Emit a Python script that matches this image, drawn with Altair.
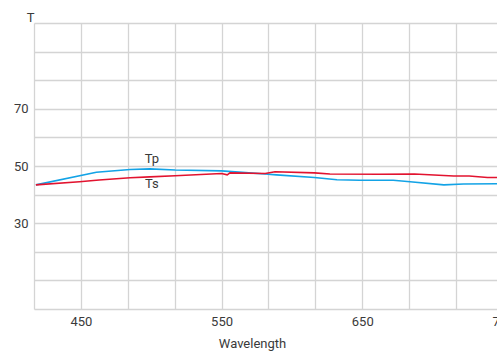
import altair as alt
import pandas as pd

# Transmission curves (wavelength in nm, T in %)
tp_wl = [418, 461, 485, 499, 517, 550, 567, 581, 589, 616, 632, 648, 672, 684, 708, 722, 746, 760]
tp_t = [43.4, 47.8, 48.8, 49.0, 48.6, 48.3, 47.7, 47.2, 46.9, 46.0, 45.2, 45.0, 45.0, 44.5, 43.4, 43.7, 43.8, 43.8]

ts_wl = [418, 449, 463, 485, 499, 517, 550, 554, 556, 581, 588, 616, 627, 662, 687, 715, 726, 739, 760]
ts_t = [43.4, 44.5, 45.1, 45.9, 46.2, 46.6, 47.4, 46.9, 47.6, 47.4, 48.0, 47.6, 47.2, 47.1, 47.2, 46.5, 46.5, 46.0, 46.0]

# Curve name labels
label_names = ["Tp", "Ts"]
label_wl = [500.5, 500.5]
label_t = [52.4, 43.7]

series_names = ["Tp", "Ts"]
series_colors = ["#13a3e6", "#e2132f"]

x_lo, x_hi = 450 - 100 / 3, 760
x_grid = [450 + k * 100 / 3 for k in range(-1, 10)]
y_grid = [0, 10, 20, 30, 40, 50, 60, 70, 80, 90, 100]
y_labels = [30, 50, 70]

FONT = "Roboto, sans-serif"
FS = 13
TEXT = "#3a3a3a"
GRID = "#d4d4d4"

curves = pd.concat([
    pd.DataFrame({"wl": tp_wl, "T": tp_t, "series": "Tp"}),
    pd.DataFrame({"wl": ts_wl, "T": ts_t, "series": "Ts"}),
])
labels = pd.DataFrame({"name": label_names, "wl": label_wl, "T": label_t})

x_scale = alt.Scale(domain=[x_lo, x_hi], nice=False, zero=False)
y_scale = alt.Scale(domain=[0, 100], nice=False)

x_axis = alt.Axis(
    values=x_grid,
    labelExpr="abs(datum.value - 50 - round((datum.value - 50) / 100) * 100) < 0.01 ? format(datum.value, 'd') : ''",
    ticks=False, domain=False, grid=True, gridColor=GRID, gridWidth=1.3,
    labelFont=FONT, labelFontSize=FS, labelColor=TEXT, labelPadding=6,
    labelFlush=False, labelOverlap=False, labelBound=False,
    title="Wavelength", titleFont=FONT, titleFontSize=FS, titleFontWeight="normal",
    titleColor=TEXT, titleX=218, titleY=38, titleAlign="center", titleBaseline="alphabetic",
)
y_axis = alt.Axis(
    values=y_grid,
    labelExpr="indexof(" + str(y_labels) + ", datum.value) >= 0 ? datum.label : ''",
    ticks=False, domain=False, grid=True, gridColor=GRID, gridWidth=1.3,
    labelFont=FONT, labelFontSize=FS, labelColor=TEXT, labelPadding=6,
    labelOverlap=False, labelFlush=False,
    title="T", titleAngle=0, titleFont=FONT, titleFontSize=FS, titleFontWeight="normal",
    titleColor=TEXT, titleX=-4, titleY=-2, titleAlign="center", titleBaseline="alphabetic",
)

x_enc = alt.X("wl:Q", scale=x_scale, axis=x_axis)
y_enc = alt.Y("T:Q", scale=y_scale, axis=y_axis)

lines = alt.Chart(curves).mark_line(strokeWidth=1.6, clip=True).encode(
    x=x_enc,
    y=y_enc,
    color=alt.Color("series:N", scale=alt.Scale(domain=series_names, range=series_colors), legend=None),
)

names = alt.Chart(labels).mark_text(font=FONT, fontSize=FS, color=TEXT).encode(
    x=x_enc,
    y=y_enc,
    text="name:N",
)

# plot area runs past the right edge of the 497px canvas, so the last tick label is cut
plot_w = 483
chart = (
    alt.layer(lines, names)
    .properties(
        width=plot_w,
        height=286,
        padding={"left": 34, "top": 23, "right": 497 - 34 - plot_w, "bottom": 42},
        autosize=alt.AutoSizeParams(type="none"),
        background="white",
    )
    .configure_view(stroke=None)
)

chart.save("out.html", embed_options={"renderer": "svg", "actions": False})
